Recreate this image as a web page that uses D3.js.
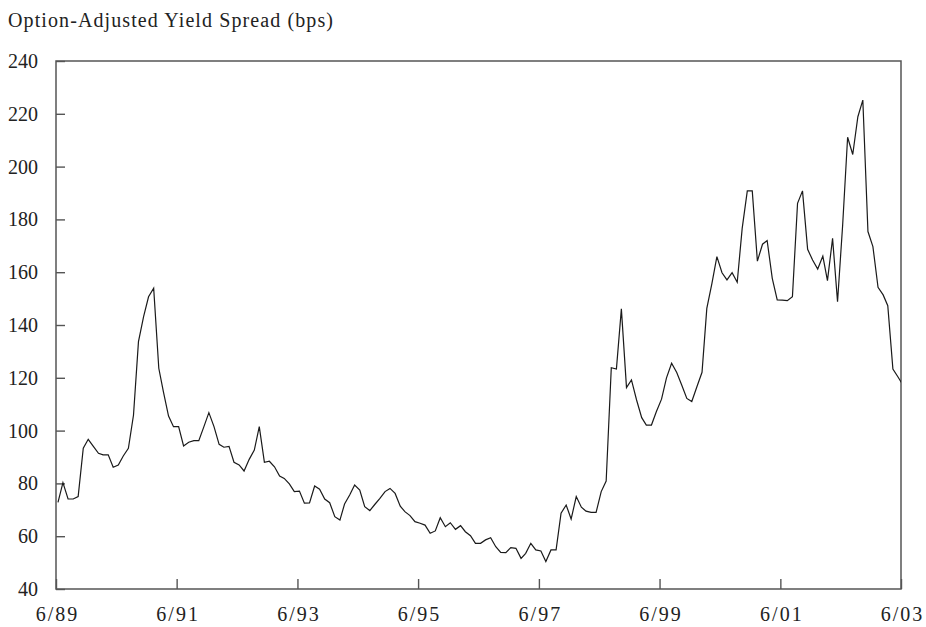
<!DOCTYPE html>
<html>
<head>
<meta charset="utf-8">
<script src="https://cdn.jsdelivr.net/npm/d3@7"></script>
<style>
body { margin: 0; background: #fff; }
text { font-family: "Liberation Serif", "DejaVu Serif", serif; fill: #222; }
</style>
</head>
<body>
<script>
// monthly option-adjusted spread, bps, from 6/89
var spread = [
  72.8, 80.3, 74.1, 74.1, 75.0, 93.3, 96.7, 94.0, 91.4, 90.8,
  90.8, 86.1, 87.0, 90.4, 93.3, 105.9, 133.7, 143.2, 150.7, 153.9,
  123.6, 114.7, 105.5, 101.5, 101.5, 94.2, 95.6, 96.2, 96.2, 101.5,
  106.8, 101.5, 94.8, 93.7, 94.0, 88.0, 87.0, 84.7, 89.1, 92.6,
  101.5, 88.0, 88.4, 86.3, 82.8, 81.9, 79.8, 76.9, 77.1, 72.5,
  72.6, 79.0, 77.8, 74.1, 72.7, 67.4, 66.1, 72.2, 75.6, 79.4,
  77.5, 71.2, 69.7, 72.1, 74.3, 76.9, 78.1, 76.2, 71.4, 69.3,
  67.8, 65.5, 64.9, 64.2, 61.1, 62.0, 67.0, 63.6, 65.1, 62.6,
  64.0, 61.7, 60.2, 57.3, 57.3, 58.6, 59.4, 56.0, 53.9, 53.8,
  55.7, 55.4, 51.6, 53.5, 57.3, 54.8, 54.4, 50.4, 54.8, 54.8,
  68.7, 71.8, 66.5, 75.0, 71.0, 69.5, 69.0, 69.0, 76.9, 80.9,
  123.8, 123.3, 146.1, 116.3, 119.2, 111.6, 104.9, 102.1, 102.1, 107.2,
  111.9, 120.0, 125.5, 122.0, 117.3, 112.2, 111.0, 116.6, 122.1, 146.3,
  155.8, 165.9, 159.8, 157.1, 159.8, 156.2, 176.6, 190.8, 190.8, 164.2,
  170.6, 172.0, 157.7, 149.5, 149.4, 149.2, 150.7, 186.1, 190.8, 168.7,
  164.6, 161.2, 166.1, 156.8, 172.8, 148.8, 177.9, 211.1, 204.6, 218.9,
  225.2, 175.4, 169.7, 154.3, 151.4, 147.3, 123.3, 120.4, 117.3
];
var startDate = new Date(1989, 5, 1);
var endDate = new Date(2003, 5, 1);
var xTickLabels = ["6/89", "6/91", "6/93", "6/95", "6/97", "6/99", "6/01", "6/03"];
var yTicks = [40, 60, 80, 100, 120, 140, 160, 180, 200, 220, 240];
var title = "Option-Adjusted Yield Spread (bps)";

var width = 926, height = 627;
var margin = { top: 61, right: 25, bottom: 38, left: 56 };

var svg = d3.select("body").append("svg")
  .attr("width", width)
  .attr("height", height);

var x = d3.scaleTime()
  .domain([startDate, endDate])
  .range([margin.left, width - margin.right]);
var y = d3.scaleLinear()
  .domain([40, 240])
  .range([height - margin.bottom, margin.top]);

var points = spread.map(function (v, i) {
  return { date: d3.timeDay.offset(d3.timeMonth.offset(startDate, i), 12), value: v };
});
var xTickDates = xTickLabels.map(function (s) {
  var yy = +s.split("/")[1];
  return new Date(yy < 50 ? 2000 + yy : 1900 + yy, 5, 1);
});

svg.append("text")
  .attr("x", 8)
  .attr("y", 27)
  .attr("font-size", "20px")
  .attr("letter-spacing", "1.1px")
  .text(title);

svg.append("defs").append("clipPath").attr("id", "plot")
  .append("rect")
  .attr("x", margin.left).attr("y", margin.top)
  .attr("width", width - margin.left - margin.right)
  .attr("height", height - margin.top - margin.bottom);

// axes, ticks inside
var yAxis = svg.append("g")
  .attr("transform", "translate(" + margin.left + ",0)")
  .call(d3.axisLeft(y).tickValues(yTicks).tickSize(-9).tickPadding(18));
var xAxis = svg.append("g")
  .attr("transform", "translate(0," + (height - margin.bottom) + ")")
  .call(d3.axisBottom(x).tickValues(xTickDates).tickSize(-10).tickPadding(18)
    .tickFormat(function (d, i) { return xTickLabels[i]; }));

[yAxis, xAxis].forEach(function (g) {
  g.select(".domain").remove();
  g.selectAll(".tick line").attr("stroke", "#555").attr("stroke-width", 1.4);
  g.selectAll(".tick text")
    .attr("font-family", "Liberation Serif, DejaVu Serif, serif")
    .attr("font-size", "20px")
    .attr("fill", "#222");
});
xAxis.selectAll(".tick text")
  .attr("letter-spacing", "2px")
  .attr("dx", "1px");

svg.append("rect")
  .attr("x", margin.left).attr("y", margin.top)
  .attr("width", width - margin.left - margin.right)
  .attr("height", height - margin.top - margin.bottom)
  .attr("fill", "none")
  .attr("stroke", "#555")
  .attr("stroke-width", 1.5);

var line = d3.line()
  .x(function (d) { return x(d.date); })
  .y(function (d) { return y(d.value); });

svg.append("path")
  .datum(points)
  .attr("clip-path", "url(#plot)")
  .attr("d", line)
  .attr("fill", "none")
  .attr("stroke", "#1a1a1a")
  .attr("stroke-width", 1.2)
  .attr("stroke-linejoin", "miter");
</script>
</body>
</html>
